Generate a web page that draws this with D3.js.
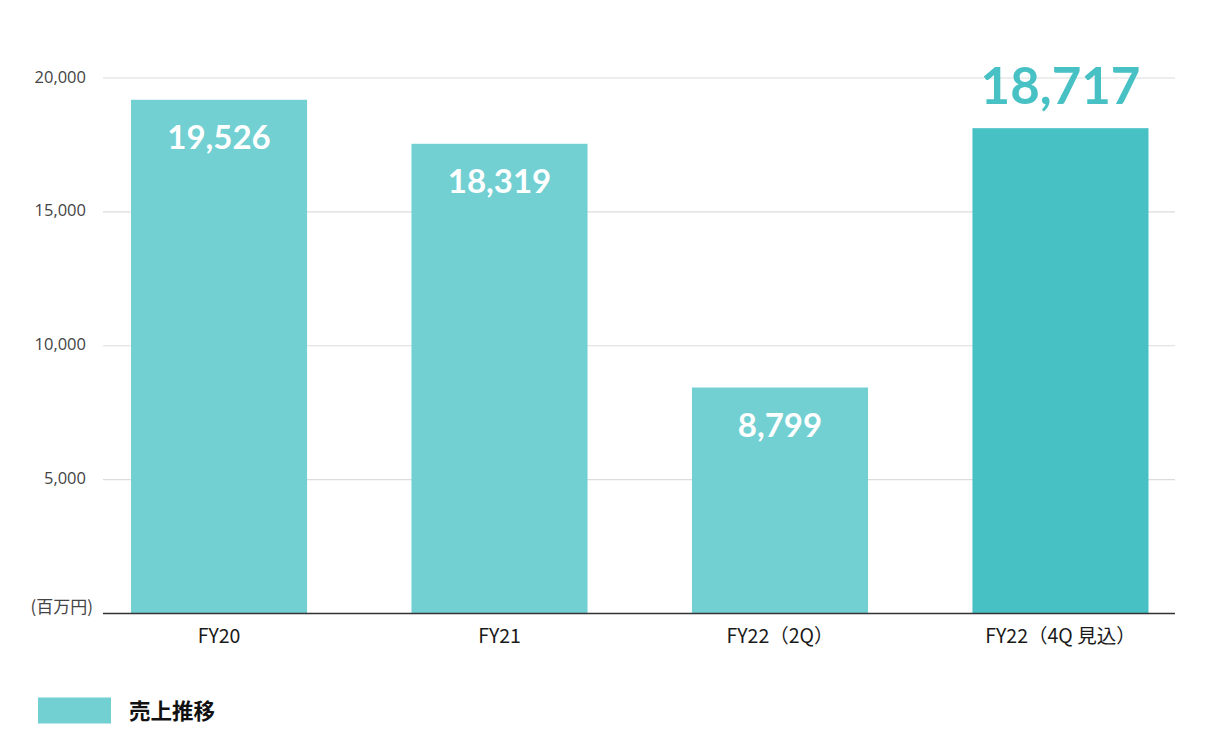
<!DOCTYPE html>
<html><head><meta charset="utf-8">
<script src="https://cdn.jsdelivr.net/npm/d3@7"></script>
<style>
html,body{margin:0;padding:0;background:#fff;}
svg{display:block;}
</style></head>
<body>
<svg id="chart" width="1226" height="752"></svg>
<script>
// ---- data ----
const categories = ["FY20", "FY21", "FY22（2Q）", "FY22（4Q 見込）"];
const barValues = [19186, 17543, 8440, 18126];          // bar heights as drawn in the picture
const valueLabels = ["19,526", "18,319", "8,799", "18,717"]; // printed values
const yTicks = [5000, 10000, 15000, 20000];
const unitLabel = "(百万円)";
const seriesName = "売上推移";

const svg = d3.select("#chart");
const x0 = 103, x1 = 1175, yBase = 613.5, yTop = 78;

const x = d3.scaleBand().domain(categories).range([131, 1148.5]).paddingInner(0.3723).paddingOuter(0);
const y = d3.scaleLinear().domain([0, 20000]).range([yBase, yTop]);

// grid
svg.append("g").selectAll("line").data(yTicks).join("line")
  .attr("x1", x0).attr("x2", x1)
  .attr("y1", d => y(d)).attr("y2", d => y(d))
  .attr("stroke", "#dcdcdc").attr("stroke-width", 1.2);

// y tick labels
const fmt = d3.format(",");
svg.append("g").selectAll("text").data(yTicks).join("text")
  .attr("x", 86).attr("y", d => y(d) + 4.5)
  .attr("text-anchor", "end")
  .attr("font-family", "'Open Sans', 'Noto Sans', sans-serif")
  .attr("font-size", 16.5).attr("fill", "#444")
  .text(d => fmt(d));

svg.append("text").attr("x", 93).attr("y", 613)
  .attr("text-anchor", "end")
  .attr("font-family", "'Noto Sans CJK JP', sans-serif")
  .attr("font-size", 17).attr("fill", "#444")
  .text(unitLabel);

// bars
const colors = ["#72d0d3", "#72d0d3", "#72d0d3", "#48c1c5"];
svg.append("g").selectAll("rect").data(categories).join("rect")
  .attr("x", d => x(d)).attr("width", x.bandwidth())
  .attr("y", (d, i) => y(barValues[i]))
  .attr("height", (d, i) => yBase - y(barValues[i]))
  .attr("fill", (d, i) => colors[i]);

// baseline
svg.append("line").attr("x1", x0).attr("x2", x1).attr("y1", yBase).attr("y2", yBase)
  .attr("stroke", "#333").attr("stroke-width", 1.5);

// value labels
svg.append("g").selectAll("text").data(categories).join("text")
  .attr("x", d => x(d) + x.bandwidth() / 2)
  .attr("y", (d, i) => i === 3 ? y(barValues[i]) - 24 : y(barValues[i]) + 49)
  .attr("text-anchor", "middle")
  .attr("font-family", "Lato, 'Noto Sans', sans-serif")
  .attr("font-weight", 700)
  .attr("font-size", (d, i) => i === 3 ? 51 : 33)
  .attr("fill", (d, i) => i === 3 ? "#48c1c5" : "#fff")
  .text((d, i) => valueLabels[i]);

// x axis labels
svg.append("g").selectAll("text").data(categories).join("text")
  .attr("x", d => x(d) + x.bandwidth() / 2)
  .attr("y", 643)
  .attr("text-anchor", "middle")
  .attr("font-family", "'Noto Sans CJK JP', sans-serif")
  .attr("font-weight", 400)
  .attr("font-size", 19.5).attr("fill", "#1a1a1a")
  .text(d => d);

// legend
svg.append("rect").attr("x", 38).attr("y", 697.5).attr("width", 73).attr("height", 26).attr("fill", "#72d0d3");
svg.append("text").attr("x", 129).attr("y", 719)
  .attr("font-family", "'Noto Sans CJK JP', sans-serif")
  .attr("font-weight", 700).attr("font-size", 21.5).attr("fill", "#111")
  .text(seriesName);
</script>
</body></html>
